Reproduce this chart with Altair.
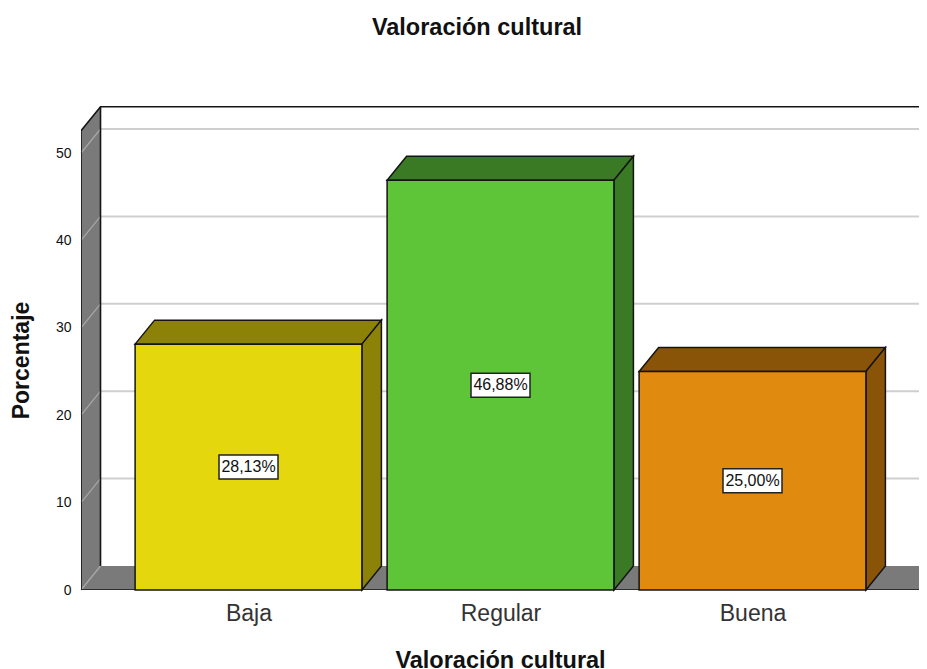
import altair as alt
import pandas as pd

CATEGORIES = ["Baja", "Regular", "Buena"]
VALUES = [28.13, 46.88, 25.00]
LABELS = ["28,13%", "46,88%", "25,00%"]
FRONT_COLORS = ["#e5d70e", "#5ec538", "#e18a10"]
SHADE_COLORS = ["#8c8208", "#3b7a24", "#8a5408"]
Y_TICKS = [0, 10, 20, 30, 40, 50]
TITLE = "Valoración cultural"
Y_TITLE = "Porcentaje"

FONT = "Liberation Sans"
DX, DY = 0.0774, 2.746        # depth of the 3D box in data units
HALF = 0.45                   # half bar width
XL, XR = -0.6647, 2.665       # floor extent
TOP = 52.55                   # wall height
XDOM = [XL, 2.6607]
YDOM = [0, 55.95]
W, H = 838, 489
GRAY = "#7a7a7a"
LINE = "#141414"

xs = alt.Scale(domain=XDOM, nice=False, zero=False)
ys = alt.Scale(domain=YDOM, nice=False, zero=False)
x_axis = alt.Axis(
    values=[0, 1, 2], labelExpr="['Baja','Regular','Buena'][datum.value]",
    domain=False, ticks=False, grid=False, labelFont=FONT, labelFontSize=23,
    labelColor="#333333", labelPadding=12, title=TITLE, titleFont=FONT,
    titleFontSize=23.5, titleFontWeight="bold", titleColor="#111111", titleX=419, titleY=58)
y_axis = alt.Axis(
    values=Y_TICKS, domain=False, ticks=False, grid=False, labelFont=FONT, labelFontSize=14,
    labelColor="#111111", labelPadding=10, title=Y_TITLE, titleFont=FONT, titleFontSize=23,
    titleFontWeight="bold", titleColor="#111111", titleX=-48, titleY=259)
X = alt.X("x:Q", scale=xs, axis=x_axis)
Y = alt.Y("y:Q", scale=ys, axis=y_axis, stack=None)
Y2 = alt.Y2("y2:Q")

rows_top, rows_side, rows_front = [], [], []
for i, (c, v) in enumerate(zip(CATEGORIES, VALUES)):
    l, r = i - HALF, i + HALF
    rows_front.append(dict(cat=c, x=l, x2=r, y=0, y2=v))
    for x, y, y2 in [(l, v, v), (l + DX, v, v + DY), (r, v, v + DY), (r + DX, v + DY, v + DY)]:
        rows_top.append(dict(cat=c, x=x, y=y, y2=y2))
    for x, y, y2 in [(r, 0, v), (r + DX, DY, v + DY)]:
        rows_side.append(dict(cat=c, x=x, y=y, y2=y2))

front_color = alt.Color("cat:N", scale=alt.Scale(domain=CATEGORIES, range=FRONT_COLORS), legend=None)
shade_color = alt.Color("cat:N", scale=alt.Scale(domain=CATEGORIES, range=SHADE_COLORS), legend=None)

# walls and floor
wall = alt.Chart(pd.DataFrame([
    dict(x=XL, y=0, y2=TOP), dict(x=XL + DX, y=DY, y2=TOP + DY)
])).mark_area(color=GRAY, line=False).encode(x=X, y=Y, y2=Y2)

floor = alt.Chart(pd.DataFrame([
    dict(x=XL, y=0, y2=0), dict(x=XL + DX, y=0, y2=DY),
    dict(x=XR, y=0, y2=DY), dict(x=XR + DX, y=DY, y2=DY),
])).mark_area(color=GRAY, line=False, clip=True).encode(x=X, y=Y, y2=Y2)

grid = alt.Chart(pd.DataFrame({
    "y": [t + DY for t in Y_TICKS[1:]], "x": XL + DX, "x2": XDOM[1]
})).mark_rule(color="#cfcfcf", strokeWidth=2).encode(x=X, x2="x2:Q", y=Y)

diag_rows = []
for t in Y_TICKS:
    diag_rows.append(dict(t=t, s=0, x=XL, y=t))
    diag_rows.append(dict(t=t, s=1, x=XL + DX, y=t + DY))
diag = alt.Chart(pd.DataFrame(diag_rows)).mark_line(color="#a8a8a8", strokeWidth=1.2).encode(
    x=X, y=Y, detail="t:N", order="s:Q")

frame_rows = [
    dict(k="a", s=0, x=XL, y=0), dict(k="a", s=1, x=XL, y=TOP),
    dict(k="a", s=2, x=XL + DX, y=TOP + DY), dict(k="a", s=3, x=XDOM[1], y=TOP + DY),
    dict(k="b", s=0, x=XL + DX, y=TOP + DY), dict(k="b", s=1, x=XL + DX, y=DY),
    dict(k="c", s=0, x=XL, y=0), dict(k="c", s=1, x=XR, y=0), dict(k="c", s=2, x=XR + DX, y=DY),
]
frame = alt.Chart(pd.DataFrame(frame_rows)).mark_line(color=LINE, strokeWidth=1.6, clip=True).encode(
    x=X, y=Y, detail="k:N", order="s:Q")

# bars
top = alt.Chart(pd.DataFrame(rows_top)).mark_area(stroke=LINE, strokeWidth=1.5, line=False).encode(
    x=X, y=Y, y2=Y2, color=shade_color, detail="cat:N")
side = alt.Chart(pd.DataFrame(rows_side)).mark_area(stroke=LINE, strokeWidth=1.5, line=False).encode(
    x=X, y=Y, y2=Y2, color=shade_color, detail="cat:N")
front = alt.Chart(pd.DataFrame(rows_front)).mark_rect(stroke=LINE, strokeWidth=1.5).encode(
    x=X, x2="x2:Q", y=Y, y2=Y2, color=front_color)

# value labels
lab = pd.DataFrame({"x": range(3), "y": [v / 2 for v in VALUES], "label": LABELS})
box = alt.Chart(lab).mark_rect(width=59, height=24, fill="white", stroke="#222222", strokeWidth=1.5).encode(x=X, y=Y)
txt = alt.Chart(lab).mark_text(font=FONT, fontSize=16, color="#111111").encode(x=X, y=Y, text="label:N")

chart = alt.layer(wall, floor, grid, diag, frame, top, side, front, box, txt).resolve_scale(
    color="independent"
).properties(
    width=W, height=H,
    autosize=alt.AutoSizeParams(type="none"),
    padding={"left": 73, "top": 93, "right": 0, "bottom": 79},
    title=alt.TitleParams(TITLE, font=FONT, fontSize=23.5, fontWeight="bold", color="#111111",
                          anchor="middle", dx=-23, offset=62),
    background="white",
).configure_view(stroke=None)

chart.save("out.html", embed_options={"renderer": "svg", "actions": False})
